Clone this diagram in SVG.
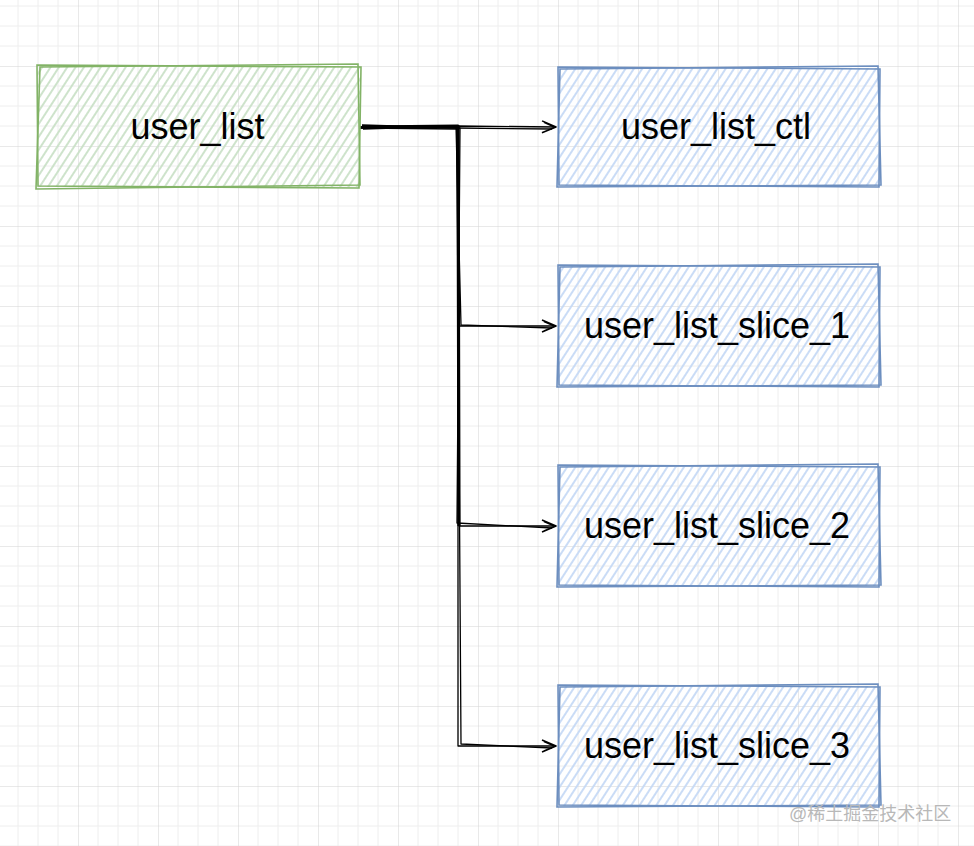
<svg xmlns="http://www.w3.org/2000/svg" width="974" height="846" viewBox="0 0 974 846">
<style>
.t{font-family:"Liberation Sans",Arial,sans-serif;font-size:36px;fill:#000;text-anchor:middle}
.gs{fill:none;stroke:#82b366;stroke-width:1.6}
.bs{fill:none;stroke:#6c8ebf;stroke-width:1.6}
.e{fill:none;stroke:#000;stroke-width:1.3;stroke-linejoin:round}
.tr{fill:none;stroke:#000;stroke-width:3.2;stroke-linejoin:round}
.wm{font-family:"Liberation Sans","Noto Sans CJK SC",sans-serif;font-size:18px;fill:#b8b8b8}
</style>
<defs>
<pattern id="grid" patternUnits="userSpaceOnUse" x="-2" y="-14" width="80" height="80">
<path d="M20,0V80M40,0V80M60,0V80M0,20H80M0,40H80M0,60H80" stroke="#eeeeee" stroke-width="1" fill="none"/>
<path d="M0,0V80M0,0H80" stroke="#d3d3d3" stroke-width="1" fill="none"/>
</pattern>
<pattern id="hg" patternUnits="userSpaceOnUse" width="7" height="7" patternTransform="rotate(33)">
<line x1="2" y1="0" x2="2" y2="7" stroke="#c9e0c6" stroke-width="1.8"/>
</pattern>
<pattern id="hb" patternUnits="userSpaceOnUse" width="7" height="7" patternTransform="rotate(33)">
<line x1="2" y1="0" x2="2" y2="7" stroke="#c4d8f5" stroke-width="1.8"/>
</pattern>
<marker id="arr" viewBox="0 0 16 14" refX="15" refY="7" markerWidth="16" markerHeight="14" markerUnits="userSpaceOnUse" orient="auto">
<path d="M1,1 L15,7 L1,13 M3,2.5 L14,7.3 L3,12" fill="none" stroke="#000" stroke-width="1.6" stroke-linejoin="round"/>
</marker>
</defs>
<rect width="974" height="846" fill="#ffffff"/>
<rect width="974" height="846" fill="url(#grid)"/>

<g id="connectors">
<path class="tr" d="M362,127 L458,126 L459,526"/>
<path class="e" d="M360,128 L458,126 L556,127" marker-end="url(#arr)"/>
<path class="e" d="M362,126 L456,128 L552,129"/>
<path class="e" d="M360,127 L458,127 L459,326 L556,326" marker-end="url(#arr)"/>
<path class="e" d="M363,129 L456,126 L461,325 L552,328"/>
<path class="e" d="M360,128 L457,127 L459,526 L556,526" marker-end="url(#arr)"/>
<path class="e" d="M362,125 L460,128 L457,523 L552,528"/>
<path class="e" d="M360,127 L458,126 L458,746 L556,746" marker-end="url(#arr)"/>
<path class="e" d="M363,128 L457,129 L461,744 L552,748"/>
</g>

<g id="user_list">
<rect x="37" y="66" width="323" height="121" fill="url(#hg)"/>
<path class="gs" d="M37,65 L361,67 L359,188 L38,186 Z"/>
<path class="gs" d="M40,67 L358,64 L360,185 L36,189 Z"/>
<text class="t" x="197.5" y="139">user_list</text>
</g>

<g id="user_list_ctl">
<rect x="558" y="68" width="322" height="118" fill="url(#hb)"/>
<path class="bs" d="M558,67 L880,69 L879,187 L559,185 Z"/>
<path class="bs" d="M560,69 L878,66 L881,185 L557,187 Z"/>
<text class="t" x="716" y="139">user_list_ctl</text>
</g>

<g id="user_list_slice_1">
<rect x="558" y="266" width="322" height="120" fill="url(#hb)"/>
<path class="bs" d="M558,265 L880,267 L879,387 L559,385 Z"/>
<path class="bs" d="M560,267 L878,264 L881,385 L557,387 Z"/>
<text class="t" x="717" y="338">user_list_slice_1</text>
</g>

<g id="user_list_slice_2">
<rect x="558" y="466" width="322" height="120" fill="url(#hb)"/>
<path class="bs" d="M558,465 L880,467 L879,587 L559,585 Z"/>
<path class="bs" d="M560,467 L878,464 L881,585 L557,587 Z"/>
<text class="t" x="717" y="538">user_list_slice_2</text>
</g>

<g id="user_list_slice_3">
<rect x="558" y="686" width="322" height="120" fill="url(#hb)"/>
<path class="bs" d="M558,685 L880,687 L879,807 L559,805 Z"/>
<path class="bs" d="M560,687 L878,684 L881,805 L557,807 Z"/>
<text class="t" x="717" y="758">user_list_slice_3</text>
</g>

<text class="wm" x="789" y="820">@稀土掘金技术社区</text>
</svg>
